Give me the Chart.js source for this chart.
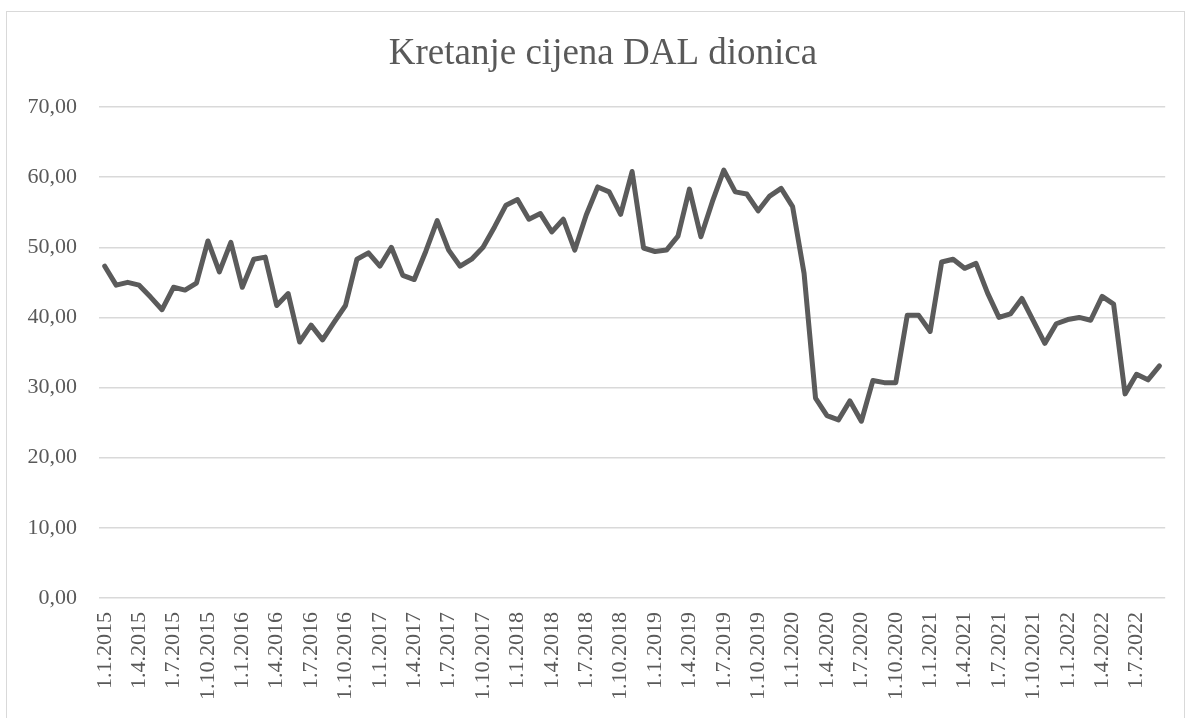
<!DOCTYPE html>
<html>
<head>
<meta charset="utf-8">
<script src="https://cdn.jsdelivr.net/npm/chart.js@4/dist/chart.umd.min.js"></script>
<style>
  html, body { margin: 0; padding: 0; background: #fff; }
  #frame {
    position: absolute; left: 6px; top: 11px; width: 1179px; height: 720px;
    border: 1px solid #d9d9d9; box-sizing: border-box;
  }
  #wrap { position: absolute; left: 0; top: 0; width: 1192px; height: 718px; }
</style>
</head>
<body>
<div id="frame"></div>
<div id="wrap"><canvas id="chart" width="1192" height="718"></canvas></div>
<script>
// monthly prices, 1.1.2015 - 1.9.2022
const startYear = 2015;
const monthCount = 93;
const cijene = [
  47.3, 44.6, 45.0, 44.6, 42.9, 41.1, 44.3, 43.9, 44.9, 50.9, 46.5, 50.7,
  44.3, 48.3, 48.6, 41.7, 43.4, 36.5, 38.9, 36.8, 39.3, 41.7, 48.3, 49.2,
  47.3, 50.0, 46.0, 45.4, 49.4, 53.8, 49.6, 47.3, 48.3, 50.0, 52.9, 56.0,
  56.8, 54.0, 54.8, 52.2, 54.0, 49.6, 54.6, 58.6, 57.9, 54.7, 60.8, 49.9,
  49.4, 49.6, 51.6, 58.3, 51.5, 56.5, 61.0, 57.9, 57.6, 55.2, 57.3, 58.4,
  55.8, 46.3, 28.5, 26.0, 25.4, 28.1, 25.2, 31.0, 30.7, 30.7, 40.3, 40.3,
  38.0, 47.9, 48.3, 47.0, 47.7, 43.5, 40.0, 40.5, 42.7, 39.5, 36.3, 39.1,
  39.7, 40.0, 39.6, 43.0, 41.9, 29.1, 31.9, 31.1, 33.1
];
const yTicks = [0, 10, 20, 30, 40, 50, 60, 70];
const naslov = "Kretanje cijena DAL dionica";

const datumi = [];
for (let i = 0; i < monthCount; i++) {
  const m = (i % 12) + 1;
  const y = startYear + Math.floor(i / 12);
  datumi.push("1." + m + "." + y);
}

const textColor = "#595959";
const gridColor = "#d9d9d9";
const serif = "'Liberation Serif', 'Times New Roman', serif";

// title is centred on the chart frame, not on the canvas
const naslovPlugin = {
  id: "naslov",
  afterDraw(chart) {
    const ctx = chart.ctx;
    ctx.save();
    ctx.fillStyle = textColor;
    ctx.font = "37px " + serif;
    ctx.textAlign = "center";
    ctx.textBaseline = "middle";
    ctx.fillText(naslov, 603, 54);
    ctx.restore();
  },
};

new Chart(document.getElementById("chart"), {
  type: "line",
  data: {
    labels: datumi,
    datasets: [{
      label: "DAL",
      data: cijene,
      borderColor: "#5b5b5b",
      borderWidth: 5,
      pointRadius: 0,
      tension: 0,
      borderJoinStyle: "round",
      borderCapStyle: "round",
      fill: false,
    }],
  },
  plugins: [naslovPlugin],
  options: {
    responsive: false,
    animation: false,
    layout: { padding: { left: 0, right: 26, top: 107, bottom: 0 } },
    plugins: {
      legend: { display: false },
      tooltip: { enabled: false },
      title: { display: false },
    },
    scales: {
      x: {
        offset: true,
        grid: { display: false },
        border: { display: false },
        ticks: {
          autoSkip: false,
          maxRotation: 90,
          minRotation: 90,
          padding: 6,
          color: textColor,
          font: { family: serif, size: 22 },
          callback: function (val, idx) {
            return idx % 3 === 0 ? datumi[idx] : "";
          },
        },
        afterFit: function (scale) { scale.height = 120; },
      },
      y: {
        min: 0,
        max: 70,
        afterBuildTicks: function (scale) {
          scale.ticks = yTicks.map(function (v) { return { value: v }; });
        },
        grid: { color: gridColor, lineWidth: 1.5, drawTicks: false },
        border: { display: false },
        ticks: {
          padding: 22,
          color: textColor,
          font: { family: serif, size: 22 },
          callback: function (v) { return v.toFixed(2).replace(".", ","); },
        },
        afterFit: function (scale) { scale.width = 99; },
      },
    },
  },
});
</script>
</body>
</html>
